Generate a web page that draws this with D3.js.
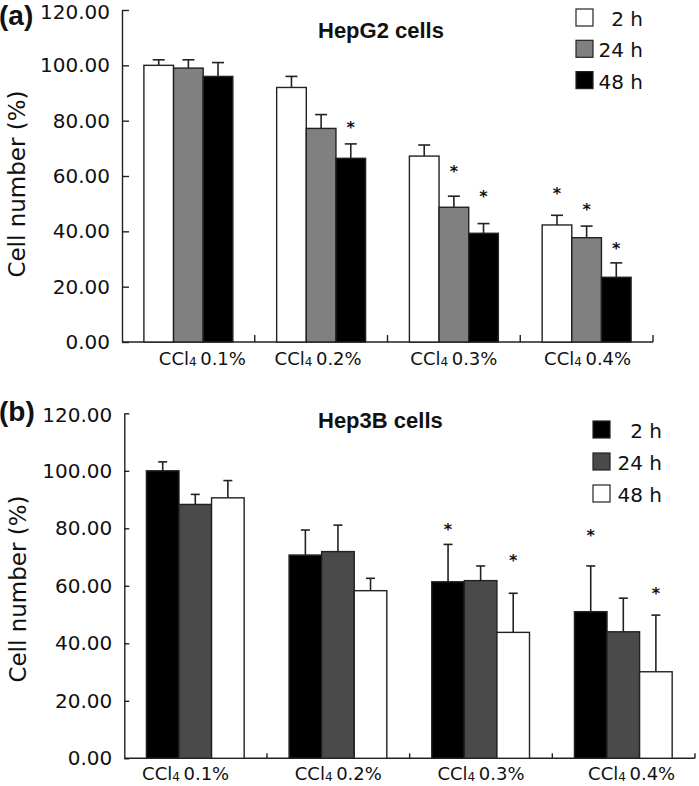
<!DOCTYPE html>
<html>
<head>
<meta charset="utf-8">
<script src="https://cdn.jsdelivr.net/npm/d3@7"></script>
<style>
  body { margin: 0; background: #fff; }
  svg { display: block; }
  text { font-family: "DejaVu Sans", Verdana, sans-serif; fill: #111; }
</style>
</head>
<body>
<svg id="chart" width="699" height="786"></svg>
<script>
// categories and series
const categories = ["0.1%", "0.2%", "0.3%", "0.4%"];
const hours = ["2 h", "24 h", "48 h"];
const yTicks = [0, 20, 40, 60, 80, 100, 120];

// (a) HepG2 cells: mean, error (upper), star level (null = no star)
const hepg2Mean = [[100, 99, 96], [92, 77.2, 66.4], [67.2, 48.7, 39.3], [42.3, 37.7, 23.4]];
const hepg2Err = [[2, 3, 5], [4, 5, 5.2], [4, 4, 3.5], [3.5, 4.2, 5.2]];
const hepg2Stars = [[null, null, null], [null, null, 78.8], [null, 62.9, 53.7], [54.9, 49.3, 35.1]];

// (b) Hep3B cells
const hep3bMean = [[100, 88.3, 90.6], [70.7, 71.9, 58.3], [61.4, 61.8, 43.8], [51, 44, 30.1]];
const hep3bErr = [[3.1, 3.5, 6], [8.7, 9.2, 4.3], [13, 5.1, 13.6], [15.9, 11.7, 19.7]];
const hep3bStars = [[null, null, null], [null, null, null], [80.8, null, 70.1], [78.8, null, 58.5]];

const svg = d3.select("#chart");
const ink = "#222";

const drawPanel = (p) => {
  const g = svg.append("g");
  const y = d3.scaleLinear().domain([0, 120]).range([p.bottom, p.top]);
  const x = d3.scaleBand().domain(categories).range([p.left, p.right]);
  const bw = x.bandwidth();
  const xs = d3.scaleBand().domain(hours).range([bw * p.inset[0], bw * p.inset[1]]);

  // y axis, ticks pointing inward
  g.append("g")
    .attr("transform", "translate(" + p.left + ",0)")
    .call(d3.axisLeft(y).tickValues(yTicks).tickFormat(d3.format(".2f"))
      .tickSizeInner(-p.tick).tickSizeOuter(0).tickPadding(12))
    .call(a => a.select(".domain").attr("stroke", ink).attr("stroke-width", 1.4))
    .call(a => a.selectAll(".tick line").attr("stroke", ink).attr("stroke-width", 1.4))
    .call(a => a.selectAll(".tick text").attr("font-size", 20)
      .attr("font-family", "DejaVu Sans").attr("fill", "#111")
      .attr("dy", d => d === 120 ? "0.4em" : "0.32em"));

  // x axis line and boundary ticks
  g.append("line")
    .attr("x1", p.left).attr("x2", p.right)
    .attr("y1", p.bottom).attr("y2", p.bottom)
    .attr("stroke", ink).attr("stroke-width", 1.4);
  g.selectAll(".xtick")
    .data(categories.slice(1).concat(["end"]))
    .enter().append("line")
    .attr("x1", d => d === "end" ? p.right : x(d))
    .attr("x2", d => d === "end" ? p.right : x(d))
    .attr("y1", p.bottom).attr("y2", p.bottom - p.tick)
    .attr("stroke", ink).attr("stroke-width", 1.4);

  // category labels with subscript
  const lab = g.selectAll(".xlab")
    .data(categories)
    .enter().append("text")
    .attr("x", (d, i) => x(d) + bw / 2 + p.labShift[i])
    .attr("y", p.labY)
    .attr("text-anchor", "middle")
    .attr("font-size", 18);
  lab.append("tspan").text("CCl");
  lab.append("tspan").attr("font-size", 12).attr("dy", 1).text("4");
  lab.append("tspan").attr("dy", -1).text(d => "\u2009" + d);

  // bars
  const groups = g.selectAll(".grp")
    .data(p.mean.map((m, i) => ({ cat: categories[i], vals: m, errs: p.err[i], stars: p.stars[i] })))
    .enter().append("g")
    .attr("transform", d => "translate(" + x(d.cat) + ",0)");

  const cells = groups.selectAll(".cell")
    .data(d => d.vals.map((v, j) => ({ h: hours[j], v: v, e: d.errs[j], s: d.stars[j], j: j })))
    .enter().append("g");

  // error bars (upper only)
  cells.append("line")
    .attr("x1", d => xs(d.h) + xs.bandwidth() / 2)
    .attr("x2", d => xs(d.h) + xs.bandwidth() / 2)
    .attr("y1", d => y(d.v)).attr("y2", d => y(d.v + d.e))
    .attr("stroke", ink).attr("stroke-width", 1.6);
  cells.append("line")
    .attr("x1", d => xs(d.h) + xs.bandwidth() / 2 - p.cap / 2)
    .attr("x2", d => xs(d.h) + xs.bandwidth() / 2 + p.cap / 2)
    .attr("y1", d => y(d.v + d.e)).attr("y2", d => y(d.v + d.e))
    .attr("stroke", ink).attr("stroke-width", 1.6);

  cells.append("rect")
    .attr("x", d => xs(d.h))
    .attr("width", xs.bandwidth())
    .attr("y", d => y(d.v))
    .attr("height", d => y(0) - y(d.v))
    .attr("fill", d => p.colors[d.j])
    .attr("stroke", ink).attr("stroke-width", 1.4);

  // significance stars
  cells.filter(d => d.s !== null).append("text")
    .attr("x", d => xs(d.h) + xs.bandwidth() / 2)
    .attr("y", d => y(d.s) + 9)
    .attr("text-anchor", "middle")
    .attr("font-size", 16)
    .attr("font-weight", "bold")
    .text("*");

  // title and panel letter
  g.append("text")
    .attr("x", p.titleX).attr("y", p.titleY)
    .style("font-family", "'Liberation Sans', Arial, sans-serif")
    .attr("font-weight", "bold").attr("font-size", 22)
    .text(p.title);
  g.append("text")
    .attr("x", -1).attr("y", p.letterY)
    .style("font-family", "'Liberation Sans', Arial, sans-serif")
    .attr("font-weight", "bold").attr("font-size", 28)
    .text(p.letter);

  // y label
  g.append("text")
    .attr("transform", "translate(" + p.ylabX + "," + p.ylabY + ") rotate(-90)")
    .attr("text-anchor", "middle")
    .attr("font-size", 23)
    .text("Cell number (%)");

  // legend
  const leg = g.selectAll(".leg")
    .data(hours)
    .enter().append("g")
    .attr("transform", (d, i) => "translate(" + p.legX + "," + (p.legY + i * p.legStep) + ")");
  leg.append("rect")
    .attr("width", p.legBox).attr("height", p.legBox)
    .attr("fill", (d, i) => p.colors[i])
    .attr("stroke", ink).attr("stroke-width", 1.2);
  leg.append("text")
    .attr("x", p.legTextEnd - p.legX)
    .attr("y", p.legBox)
    .attr("text-anchor", "end")
    .attr("font-size", 20)
    .text(d => d);
};

drawPanel({
  top: 10, bottom: 342, left: 122, right: 653, tick: 7, inset: [0.165, 0.835],
  mean: hepg2Mean, err: hepg2Err, stars: hepg2Stars,
  colors: ["#ffffff", "#808080", "#000000"], cap: 12,
  labY: 365, labShift: [14, -3, 0, 1],
  title: "HepG2 cells", titleX: 318, titleY: 38, letter: "(a)", letterY: 25,
  ylabX: 25, ylabY: 184,
  legX: 576, legY: 9, legStep: 31.3, legBox: 17, legTextEnd: 643
});

drawPanel({
  top: 413.3, bottom: 758.3, left: 124.3, right: 695, tick: 5, inset: [0.155, 0.84],
  mean: hep3bMean, err: hep3bErr, stars: hep3bStars,
  colors: ["#000000", "#4a4a4a", "#ffffff"], cap: 9,
  labY: 780, labShift: [-10, 0, 0, 8],
  title: "Hep3B cells", titleX: 318, titleY: 428, letter: "(b)", letterY: 421,
  ylabX: 26, ylabY: 589,
  legX: 593, legY: 421, legStep: 32, legBox: 17, legTextEnd: 662
});
</script>
</body>
</html>
